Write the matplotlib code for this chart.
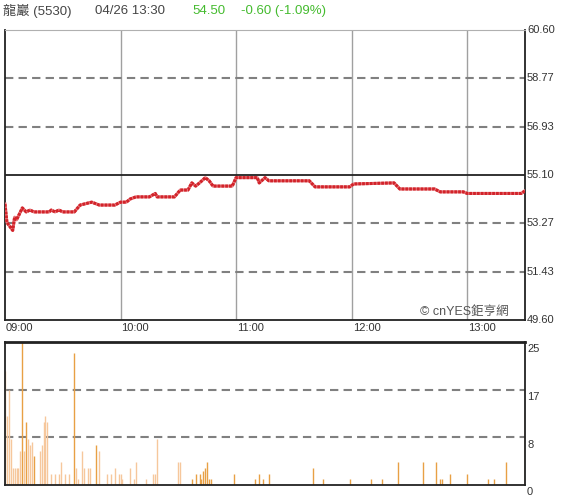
import numpy as np
import matplotlib as mpl
mpl.use('Agg')
import matplotlib.pyplot as plt

plt.rcParams['font.family'] = ['Liberation Sans', 'Noto Sans CJK TC', 'DejaVu Sans']

# header
name = '龍巖 (5530)'
stamp = '04/26 13:30'
last = '54.50'
chg = '-0.60 (-1.09%)'
prev_close = 55.10

# price, minutes after 09:00
t_price = [0, 1, 4, 5, 6, 8, 9, 11, 13, 15, 23, 24, 26, 28, 30, 36, 39, 45, 49, 57, 60, 63,
           65, 68, 75, 78, 79, 88, 91, 95, 97, 99, 101, 104, 106, 108, 118, 120, 131, 132,
           135, 137, 158, 161, 179, 181, 202, 205, 223, 226, 238, 240, 268, 270]
price = [54.0, 53.3, 53.0, 53.5, 53.4, 53.7, 53.85, 53.7, 53.77, 53.7, 53.7, 53.77, 53.7,
         53.77, 53.7, 53.7, 53.96, 54.07, 53.96, 53.96, 54.07, 54.07, 54.19, 54.27, 54.27,
         54.4, 54.27, 54.27, 54.53, 54.53, 54.8, 54.68, 54.8, 55.0, 54.88, 54.68, 54.68,
         55.0, 55.0, 54.8, 55.0, 54.88, 54.88, 54.65, 54.65, 54.76, 54.8, 54.57, 54.57,
         54.46, 54.46, 54.4, 54.4, 54.5]

# volume, minutes after 09:00
t_vol = [0, 1, 2, 3, 4, 5, 6, 7, 8, 9, 10, 11, 12, 13, 14, 15, 18, 19, 20, 21, 22, 24, 26,
         28, 29, 31, 33, 36, 37, 38, 40, 41, 43, 44, 47, 49, 53, 55, 57, 59, 60, 61, 65, 67,
         68, 73, 77, 78, 79, 90, 91, 97, 99, 101, 102, 103, 104, 105, 106, 107, 119, 130,
         132, 134, 137, 160, 165, 179, 190, 196, 204, 217, 224, 226, 227, 231, 240, 251,
         254, 260, 270]
vol = [20, 12, 16.6, 8, 3, 3, 3, 3, 6, 25, 6, 11, 8, 7, 7.5, 5, 6, 7, 11, 12, 11, 2, 2, 2,
       4, 2, 2, 23, 3, 1, 6, 3, 3, 3, 7, 6, 2, 2, 3, 2, 2, 1, 3, 1, 4, 1, 2, 2, 8, 4, 4, 1,
       2, 2, 1, 2.5, 3, 4, 1, 1, 2, 1, 2, 1, 2, 3, 1, 1, 1, 1, 4, 4, 4, 1, 1, 2, 2, 1, 1,
       4, 12.7]
dark = [0, 0, 0, 0, 0, 0, 0, 0, 0, 1, 0, 1, 0, 0, 0, 1, 0, 0, 0, 0, 0, 0, 0, 0, 0, 0, 0,
        1, 0, 0, 0, 0, 0, 0, 1, 0, 0, 0, 0, 0, 0, 0, 0, 0, 0, 0, 0, 0, 0, 0, 0, 1, 1, 1, 1,
        1, 1, 1, 1, 1, 1, 1, 1, 1, 1, 1, 1, 1, 1, 1, 1, 1, 1, 1, 1, 1, 1, 1, 1, 1, 1]

time_ticks = [0, 60, 120, 180, 240]
time_labels = ['09:00', '10:00', '11:00', '12:00', '13:00']
price_ticks = [49.60, 51.43, 53.27, 55.10, 56.93, 58.77, 60.60]
vol_ticks = [0, 8.33, 16.67, 25]
vol_labels = ['0', '8', '17', '25']

fig = plt.figure(figsize=(5.8, 5.0), dpi=100)
ax = fig.add_axes([5/580, 1-320/500, 520/580, 290/500])
axv = fig.add_axes([5/580, 1-485/500, 520/580, 143/500])

# price panel
ax.set_xlim(0, 270)
ax.set_ylim(49.6, 60.6)
for t in time_ticks[1:]:
    ax.axvline(t, color='#a0a0a0', lw=1.0, zorder=1)
for p in price_ticks[1:-1]:
    if p == prev_close:
        ax.axhline(p, color='#222222', lw=1.3, zorder=2)
    else:
        ax.axhline(p, color='#808080', lw=1.5, ls=(0, (4, 2.5)), zorder=1)
# striped red line: light base + dense dashes on top
ax.plot(t_price, price, color='#e6777b', lw=2.2, zorder=3)
ax.plot(t_price, price, color='#d2232a', lw=2.2, ls=(0, (0.9, 0.35)), zorder=4)
ax.set_xticks([])
ax.set_yticks([])
for s in ['left', 'bottom', 'right']:
    ax.spines[s].set_color('#222222')
    ax.spines[s].set_linewidth(1.3)
ax.spines['top'].set_color('#b0b0b0')
for p in price_ticks:
    ax.text(1.004, p, '%.2f' % p, transform=ax.get_yaxis_transform(), fontsize=8,
            color='#333333', ha='left', va='center', clip_on=False)
for t, lab in zip(time_ticks, time_labels):
    ax.text(t + 0.5, 49.6 - 0.12, lab, fontsize=8, color='#333333', ha='left', va='top',
            clip_on=False)
ax.text(0.799, 0.008, '© cnYES鉅亨網', transform=ax.transAxes, fontsize=9,
        color='#555555', ha='left', va='bottom')

# header
fig.text(3/580, 1-11/500, name, fontsize=9.5, color='#444444', va='center')
fig.text(95/580, 1-11/500, stamp, fontsize=9.5, color='#444444', va='center')
fig.text(192/580, 1-11/500, last, fontsize=9.5, color='#44bb2e', va='center')
fig.text(241/580, 1-11/500, chg, fontsize=9.5, color='#44bb2e', va='center')

# volume panel
axv.set_xlim(0, 270)
axv.set_ylim(0, 25)
for v in vol_ticks[1:-1]:
    axv.axhline(v, color='#808080', lw=1.5, ls=(0, (4, 2.5)), zorder=1)
colors = ['#e8a044' if d else '#f6c79c' for d in dark]
axv.vlines(t_vol, 0, vol, colors=colors, lw=1.0, zorder=2)
axv.set_xticks([])
axv.set_yticks([])
for s in ['left', 'bottom', 'right', 'top']:
    axv.spines[s].set_color('#222222')
    axv.spines[s].set_linewidth(1.3)
axv.spines['top'].set_linewidth(2)
for v, lab in zip(vol_ticks, vol_labels):
    axv.text(1.004, v - 0.4, lab, transform=axv.get_yaxis_transform(), fontsize=8,
             color='#333333', ha='left', va='top', clip_on=False)

fig.savefig('out.png', dpi=100)
